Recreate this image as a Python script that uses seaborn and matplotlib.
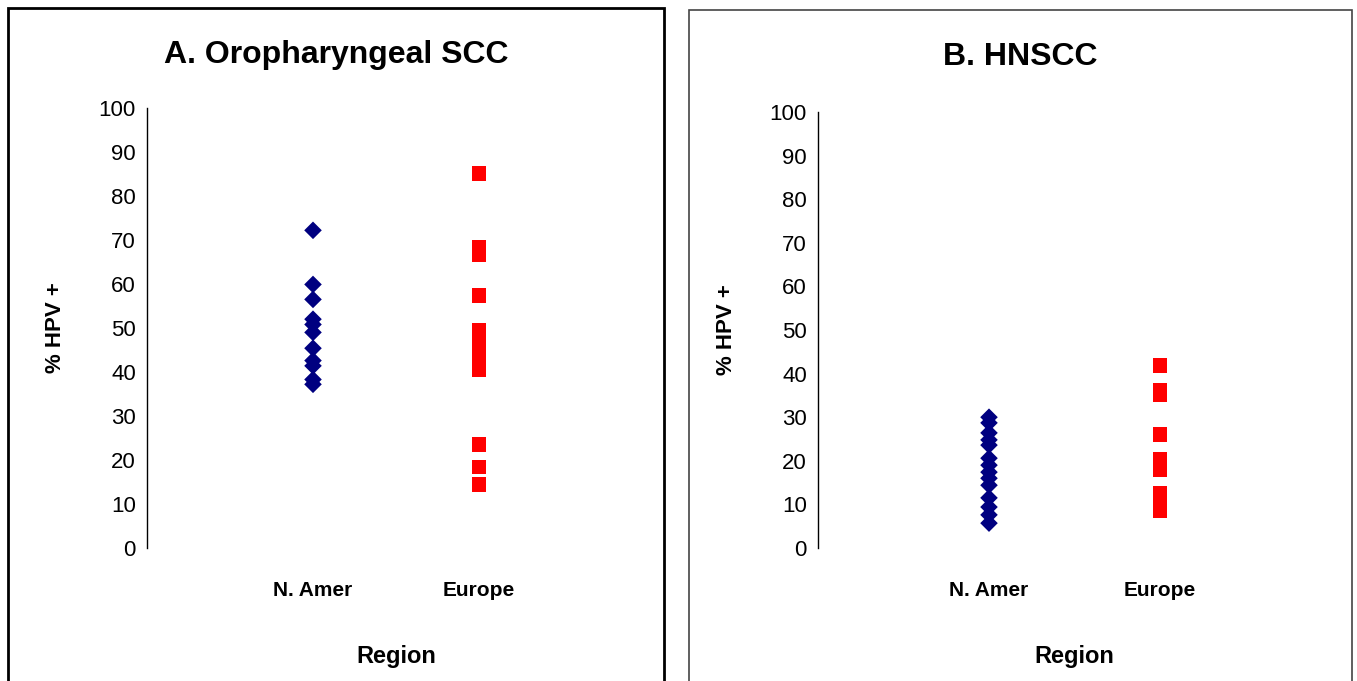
import matplotlib
matplotlib.use("Agg")
import matplotlib.pyplot as plt
import matplotlib.patches as patches
import seaborn as sns
import pandas as pd

# Panel A: oropharyngeal SCC, % HPV positive per study
a_namer = [72.2, 59.9, 56.5, 52.0, 50.8, 49.0, 45.4, 42.6, 41.4, 38.3, 37.2]
a_europe = [85.2, 68.4, 66.6, 57.3, 49.5, 47.0, 44.5, 42.0, 40.5, 23.6, 18.4, 14.4]

# Panel B: all HNSCC
b_namer = [30.0, 28.7, 26.4, 24.8, 23.6, 20.6, 19.0, 17.4, 16.0, 14.4, 11.5, 9.4, 7.6, 5.7]
b_europe = [41.9, 36.2, 35.1, 26.1, 20.4, 18.1, 12.4, 10.4, 8.5]

regions = ["N. Amer", "Europe"]
titles = ["A. Oropharyngeal SCC", "B. HNSCC"]
yticks = list(range(0, 101, 10))

W, H = 1357, 681


def make_df(namer, europe):
    rows = [{"Region": "N. Amer", "pct": v} for v in namer]
    rows += [{"Region": "Europe", "pct": v} for v in europe]
    return pd.DataFrame(rows)


def plot_panel(fig, rect_px, df, title, title_xy):
    """rect_px = (left, top, width, height) in pixels"""
    left, top, width, height = rect_px
    ax = fig.add_axes([left / W, (H - top - height) / H, width / W, height / H])
    df = df.copy()
    df["x"] = df["Region"].map({r: i for i, r in enumerate(regions)})

    sns.scatterplot(data=df, x="x", y="pct", hue="Region", style="Region",
                    hue_order=regions, style_order=regions,
                    palette={"N. Amer": "#000080", "Europe": "#FF0000"},
                    markers={"N. Amer": "D", "Europe": "s"},
                    size="Region", sizes={"N. Amer": 80, "Europe": 115},
                    linewidth=0, legend=False, ax=ax)

    ax.set_xlim(-1, 2)
    ax.set_ylim(0, 100)
    ax.set_xticks(range(len(regions)))
    ax.set_xticklabels(regions, fontsize=15, fontweight="bold", color="black")
    ax.set_yticks(yticks)
    ax.set_yticklabels([str(t) for t in yticks], fontsize=16, color="black")
    ax.tick_params(axis="x", length=0, pad=24)
    ax.tick_params(axis="y", length=4, width=1, direction="out", pad=4, color="black")

    for s in ["top", "right", "bottom"]:
        ax.spines[s].set_visible(False)
    ax.spines["left"].set_color("black")
    ax.spines["left"].set_linewidth(1)

    # axis titles, placed in pixel offsets from the axes
    ax.set_ylabel("% HPV +", fontsize=16, fontweight="bold", color="black")
    ax.yaxis.set_label_coords(-81 / width, 0.5)
    ax.set_xlabel("Region", fontsize=17, fontweight="bold", color="black")
    ax.xaxis.set_label_coords(0.5, -97 / height)

    fig.text(title_xy[0] / W, 1 - title_xy[1] / H, title, fontsize=23,
             fontweight="bold", ha="center", va="center", color="black")
    ax.set_facecolor("white")
    return ax


def main():
    sns.set_style("white")
    plt.rcParams["font.family"] = ["Liberation Sans", "DejaVu Sans"]

    fig = plt.figure(figsize=(W / 100, H / 100), dpi=100)
    fig.patch.set_facecolor("white")

    # panel frames, running off the bottom of the image
    fig.patches.append(patches.Rectangle((8 / W, -0.05), (664 - 8) / W, 0.05 + (H - 8) / H,
                                         transform=fig.transFigure, fill=False,
                                         edgecolor="black", linewidth=2))
    fig.patches.append(patches.Rectangle((689 / W, -0.05), (1352 - 689) / W, 0.05 + (H - 10) / H,
                                         transform=fig.transFigure, fill=False,
                                         edgecolor="#444444", linewidth=1.2))

    plot_panel(fig, (147, 108, 498, 440), make_df(a_namer, a_europe), titles[0], (336, 55))
    plot_panel(fig, (818, 112, 513, 436), make_df(b_namer, b_europe), titles[1], (1020, 57))

    fig.savefig("out.png", dpi=100)
    plt.close(fig)


if __name__ == "__main__":
    main()
